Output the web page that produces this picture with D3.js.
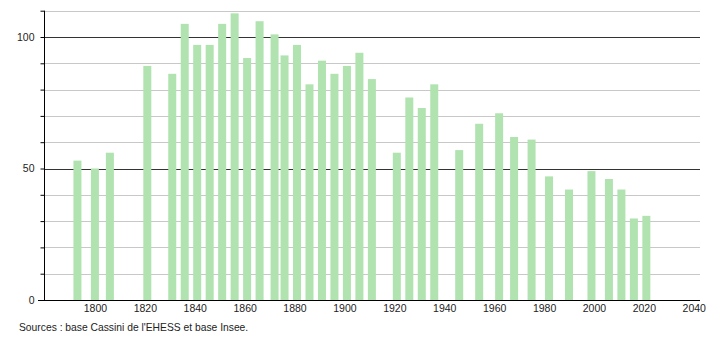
<!DOCTYPE html>
<html>
<head>
<meta charset="utf-8">
<script src="https://cdn.jsdelivr.net/npm/d3@7"></script>
<style>
  body { margin: 0; background: #fff; }
  text { font-family: "Liberation Sans", Arial, sans-serif; fill: #222; }
</style>
</head>
<body>
<svg id="chart" width="710" height="340"></svg>
<script>
// census years and population
var years = [1793, 1800, 1806, 1821, 1831, 1836, 1841, 1846, 1851, 1856, 1861, 1866,
  1872, 1876, 1881, 1886, 1891, 1896, 1901, 1906, 1911, 1921, 1926, 1931, 1936,
  1946, 1954, 1962, 1968, 1975, 1982, 1990, 1999, 2006, 2011, 2016, 2021];
var population = [53, 50, 56, 89, 86, 105, 97, 97, 105, 109, 92, 106,
  101, 93, 97, 82, 91, 86, 89, 94, 84, 56, 77, 73, 82,
  57, 67, 71, 62, 61, 47, 42, 49, 46, 42, 31, 32];
var xTicks = [1800, 1820, 1840, 1860, 1880, 1900, 1920, 1940, 1960, 1980, 2000, 2020, 2040];
var yLabels = [0, 50, 100];
var yGrid = [10, 20, 30, 40, 50, 60, 70, 80, 90, 100, 110];
var source = "Sources : base Cassini de l'EHESS et base Insee.";

var svg = d3.select('#chart');

var x = d3.scaleLinear().domain([1779.6, 2042.5]).range([44, 700]);
var y = d3.scaleLinear().domain([0, 110]).range([300, 10.7]);

/* grid lines, darker every 50 */
svg.append('g').selectAll('line')
  .data(yGrid)
  .enter().append('line')
  .attr('x1', 44).attr('x2', 700)
  .attr('y1', function(d) { return Math.round(y(d)) + 0.5; })
  .attr('y2', function(d) { return Math.round(y(d)) + 0.5; })
  .style('stroke', function(d) { return d % 50 === 0 ? '#333' : '#c8c8c8'; })
  .style('stroke-width', 1);

/* bars */
var barW = 8;
svg.append('g').selectAll('rect')
  .data(years)
  .enter().append('rect')
  .attr('x', function(d) { return x(d) - barW / 2; })
  .attr('y', function(d, i) { return y(population[i]); })
  .attr('width', barW)
  .attr('height', function(d, i) { return y(0) - y(population[i]); })
  .style('fill', '#b0e3b0');

/* y axis */
var yAxis = d3.axisLeft(y).tickValues(yGrid.concat([0])).tickSize(4)
  .tickFormat(function(d) { return yLabels.indexOf(d) >= 0 ? d : ''; });
var gy = svg.append('g').attr('transform', 'translate(44.5,0)').call(yAxis);
gy.select('.domain').attr('d', 'M0,' + y(110) + 'V' + (y(0) + 0.5)).style('stroke', '#000');
gy.selectAll('.tick line').style('stroke', '#000');
gy.selectAll('.tick text').attr('x', -10).style('font-size', '10.5px');

/* x axis */
var xAxis = d3.axisBottom(x).tickValues(xTicks).tickSize(0).tickFormat(d3.format('d'));
var gx = svg.append('g').attr('transform', 'translate(0,300.5)').call(xAxis);
gx.select('.domain').attr('d', 'M38,0H700').style('stroke', '#000');
gx.selectAll('.tick text').attr('y', 4).style('font-size', '10.5px');

svg.append('text')
  .attr('x', 19).attr('y', 331)
  .style('font-size', '10.3px')
  .text(source);
</script>
</body>
</html>
